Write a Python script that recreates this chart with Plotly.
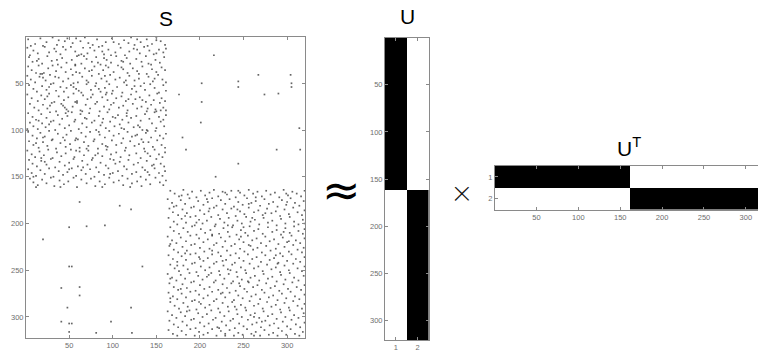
import plotly.graph_objects as go

W, H = 758, 351

# ---------------- data ----------------
n_nodes = 320
cluster_sizes = [161, 159]

# nonzero entries (row, col) of S
block1_entries = [
(3,3),(8,11),(2,17),(6,24),(1,31),(9,36),(4,38),(2,48),(7,54),(5,63),(1,68),(9,77),(3,82),(6,92),(2,99),(8,107),(4,113),(1,121),(9,125),(6,132),(3,139),(8,145),(1,150),(5,155),(9,160),(10,6),(5,45),(10,88),(7,118),(4,150),(10,140),(2,58),(7,72),(10,20),(6,101),(3,128),
(12,2),(15,9),(18,14),(11,22),(17,27),(13,33),(19,40),(14,46),(11,52),(16,57),(20,61),(12,66),(18,71),(15,79),(11,84),(19,90),(14,95),(17,103),(12,109),(20,114),(16,119),(13,124),(18,131),(11,136),(15,142),(19,147),(14,153),(17,158),(13,161),(20,5),(16,35),(12,74),(20,98),(14,128),(18,150),(11,43),(19,64),(16,88),
(22,4),(27,8),(24,15),(29,19),(21,25),(26,30),(30,37),(23,42),(28,47),(25,53),(21,59),(29,64),(24,70),(27,76),(22,81),(30,86),(25,93),(28,98),(21,104),(26,110),(23,116),(29,120),(24,127),(27,133),(21,138),(30,144),(25,149),(28,154),(22,159),(26,13),(30,57),(23,90),(27,112),(29,141),(21,67),(25,36),(28,83),
(32,3),(36,7),(39,12),(40,17),(40,19),(39,21),(34,26),(31,31),(37,35),(33,41),(38,46),(35,52),(31,57),(39,62),(34,68),(37,73),(32,79),(40,84),(36,89),(33,95),(38,101),(31,106),(35,112),(39,117),(34,123),(37,128),(32,134),(40,139),(35,145),(38,150),(33,156),(36,160),(31,15),(38,58),(33,110),(40,130),(36,76),(31,92),
(42,2),(46,6),(49,11),(43,16),(47,23),(41,28),(50,32),(44,38),(48,43),(45,49),(41,54),(49,60),(43,65),(47,70),(42,76),(50,81),(45,87),(48,93),(41,97),(46,103),(44,108),(49,113),(42,119),(47,125),(45,130),(50,136),(43,141),(48,146),(41,152),(46,157),(49,161),(44,20),(50,55),(42,91),(47,115),(45,148),(49,72),(43,34),
(52,4),(56,9),(59,13),(53,19),(57,24),(51,29),(58,35),(54,40),(55,47),(52,52),(54,55),(56,58),(58,61),(60,64),(51,70),(57,75),(53,80),(59,86),(55,91),(51,96),(58,100),(54,105),(60,111),(52,116),(56,122),(59,127),(53,132),(57,137),(51,143),(55,148),(60,153),(52,158),(58,161),(54,27),(59,44),(56,84),(53,125),(60,93),
(62,2),(66,7),(69,14),(63,18),(67,22),(61,27),(70,33),(64,38),(68,44),(65,49),(61,55),(69,59),(63,66),(67,71),(62,77),(70,82),(65,88),(68,94),(61,99),(66,104),(64,110),(69,115),(62,121),(67,126),(65,131),(70,138),(63,142),(68,147),(61,151),(66,156),(69,160),(64,25),(70,57),(62,92),(67,118),(65,75),(68,134),
(72,5),(76,10),(79,15),(73,20),(77,25),(71,30),(80,35),(72,41),(74,43),(76,45),(78,47),(80,49),(75,54),(71,59),(79,63),(73,69),(77,74),(72,80),(80,85),(75,90),(78,96),(71,101),(76,107),(74,112),(79,117),(72,123),(77,128),(75,133),(80,139),(73,144),(78,149),(71,154),(76,158),(79,161),(74,28),(80,65),(73,98),(77,140),(79,155),
(82,3),(86,8),(89,12),(83,18),(87,24),(81,28),(90,32),(84,37),(88,42),(85,48),(81,53),(89,57),(83,63),(87,68),(82,73),(90,79),(85,84),(88,89),(81,94),(86,100),(84,106),(89,111),(82,116),(87,121),(85,127),(90,132),(83,137),(88,142),(81,148),(86,153),(89,158),(84,161),(90,15),(82,46),(87,103),(85,116),(80,150),(88,70),
(92,5),(96,9),(99,14),(93,19),(97,23),(91,29),(100,34),(94,39),(98,45),(95,50),(91,56),(99,61),(93,65),(97,70),(92,76),(100,81),(95,86),(98,92),(91,97),(96,102),(94,108),(99,113),(92,118),(97,124),(95,129),(100,134),(100,139),(101,140),(93,145),(98,150),(91,155),(96,159),(99,2),(94,27),(92,88),(97,131),(98,110),
(102,3),(106,8),(109,13),(103,17),(107,22),(101,27),(110,31),(104,37),(108,43),(105,47),(101,52),(109,58),(103,64),(107,69),(102,74),(110,79),(105,85),(108,91),(101,96),(106,101),(104,107),(109,112),(102,117),(107,122),(105,128),(110,133),(103,138),(108,144),(101,149),(106,154),(109,158),(104,161),(110,60),(102,84),(106,126),(108,20),
(112,4),(116,9),(119,15),(113,20),(117,25),(111,30),(120,35),(114,40),(118,46),(115,51),(111,57),(119,62),(113,67),(117,72),(112,78),(120,83),(115,88),(118,94),(111,99),(116,104),(114,110),(119,115),(112,120),(117,125),(115,130),(120,136),(113,141),(118,146),(111,151),(116,156),(119,160),(114,12),(111,45),(117,92),(113,135),(120,70),
(122,2),(126,7),(129,11),(123,16),(127,21),(121,26),(130,31),(124,36),(128,41),(125,46),(121,52),(129,56),(123,62),(127,67),(122,72),(130,77),(125,83),(128,88),(121,93),(126,98),(124,104),(129,109),(122,114),(127,119),(125,127),(130,132),(123,137),(128,143),(121,148),(126,153),(129,157),(124,160),(130,18),(122,58),(127,80),(125,140),
(132,4),(136,8),(139,13),(133,18),(137,24),(131,29),(140,34),(134,39),(138,45),(135,50),(131,55),(139,60),(133,65),(137,71),(132,76),(140,81),(135,86),(138,92),(131,97),(136,103),(134,108),(139,113),(132,118),(137,124),(135,129),(140,134),(133,139),(138,145),(131,150),(136,155),(139,159),(134,22),(140,66),(132,101),(137,147),
(142,3),(146,7),(149,12),(143,17),(147,22),(141,27),(150,32),(144,38),(148,43),(145,48),(141,53),(149,58),(143,64),(147,69),(142,74),(150,79),(145,84),(148,90),(141,95),(146,100),(144,106),(149,111),(142,116),(147,122),(145,127),(150,132),(143,137),(148,142),(141,148),(146,153),(149,157),(144,160),(150,9),(142,50),(147,97),(145,140),
(152,5),(156,9),(159,14),(153,19),(157,24),(151,29),(160,33),(154,39),(158,44),(155,49),(151,55),(161,59),(153,64),(157,70),(152,75),(160,80),(155,85),(158,91),(151,96),(156,101),(154,107),(159,112),(152,117),(157,122),(155,128),(160,133),(153,138),(158,143),(151,149),(156,154),(159,158),(161,12),(161,40),(161,88),(161,120),(154,161),
]

block2_entries = [
(165,166),(168,171),(171,176),(164,181),(169,186),(166,191),(172,196),(165,201),(170,206),(167,211),(164,216),(171,221),(166,226),(169,231),(165,236),(172,241),(167,246),(170,251),(164,256),(168,261),(166,266),(171,271),(165,276),(169,281),(167,286),(172,291),(164,296),(170,301),(166,306),(168,311),(171,316),(165,320),(170,179),(167,229),(172,264),(168,299),(165,244),
(174,163),(178,168),(181,173),(175,178),(179,183),(173,188),(182,193),(176,198),(180,204),(177,209),(173,214),(181,219),(175,224),(179,229),(174,234),(182,239),(177,244),(180,249),(173,254),(178,259),(176,264),(181,269),(174,274),(179,279),(177,284),(182,289),(175,294),(180,299),(173,304),(178,309),(181,314),(176,319),(182,170),(174,208),(179,256),(177,300),
(184,165),(188,169),(191,175),(185,180),(189,185),(183,190),(192,195),(186,200),(190,205),(187,210),(183,216),(191,221),(185,226),(189,231),(184,236),(192,241),(187,246),(190,251),(183,256),(188,262),(186,267),(191,272),(184,277),(189,282),(187,287),(192,292),(185,297),(190,302),(183,307),(188,312),(191,317),(186,320),(192,183),(185,243),(189,275),(184,211),
(194,164),(198,170),(201,174),(195,179),(199,184),(193,189),(202,194),(196,199),(200,203),(197,208),(193,213),(201,218),(195,223),(199,228),(194,233),(202,238),(197,243),(200,248),(193,253),(198,258),(196,263),(201,268),(194,273),(199,278),(197,283),(202,288),(195,293),(200,298),(193,303),(198,308),(201,313),(196,318),(200,320),(202,232),(194,260),(199,196),
(204,166),(208,170),(211,176),(205,181),(209,186),(203,191),(212,196),(206,201),(210,206),(207,212),(203,217),(211,222),(205,227),(209,232),(204,237),(212,242),(207,247),(210,252),(203,257),(208,262),(206,267),(211,272),(204,278),(209,283),(207,288),(212,293),(205,298),(210,303),(203,308),(208,313),(211,318),(206,320),(212,214),(204,250),(209,296),
(214,163),(218,168),(221,173),(215,178),(219,184),(213,189),(222,194),(216,199),(220,204),(217,209),(213,214),(221,219),(215,224),(219,229),(214,234),(222,240),(217,245),(220,250),(213,255),(218,260),(216,265),(221,270),(214,275),(219,280),(217,285),(222,290),(215,295),(220,300),(213,305),(218,310),(221,315),(216,320),(222,166),(214,247),(219,302),
(224,165),(228,170),(231,175),(225,180),(229,185),(223,190),(232,195),(226,200),(230,205),(227,211),(223,216),(231,221),(225,226),(229,231),(224,236),(232,241),(227,246),(230,251),(223,256),(228,261),(226,266),(231,271),(224,276),(229,281),(227,287),(232,292),(225,297),(230,302),(223,307),(228,312),(231,317),(226,319),(232,183),(224,258),(229,214),
(234,164),(238,169),(241,174),(235,179),(239,184),(233,189),(242,194),(236,199),(240,204),(237,209),(233,214),(241,219),(235,224),(239,230),(234,235),(242,240),(237,245),(240,250),(233,255),(238,260),(236,265),(241,270),(234,275),(239,280),(237,285),(242,290),(235,295),(240,300),(233,305),(238,310),(241,315),(236,320),(240,226),(234,287),(238,200),
(244,166),(248,171),(251,176),(245,181),(249,186),(243,191),(252,196),(246,201),(250,206),(247,211),(243,216),(251,222),(245,227),(249,232),(244,237),(252,242),(247,247),(250,252),(243,257),(248,262),(246,267),(251,272),(244,277),(249,282),(247,287),(252,292),(245,297),(250,302),(243,307),(248,312),(251,317),(246,320),(243,289),(250,235),(245,174),
(254,163),(258,168),(261,173),(255,178),(259,183),(253,188),(262,193),(256,198),(260,203),(257,208),(253,213),(261,218),(255,223),(259,228),(254,233),(262,238),(257,243),(260,248),(253,253),(258,258),(256,263),(261,268),(254,273),(259,278),(257,283),(262,288),(255,293),(260,298),(253,303),(258,308),(261,313),(256,319),(262,255),(255,210),(259,166),
(264,165),(268,170),(271,175),(265,180),(269,185),(263,190),(272,195),(266,200),(270,205),(268,211),(263,216),(271,221),(265,226),(269,231),(264,236),(272,241),(267,246),(270,251),(263,256),(268,261),(266,266),(271,271),(264,276),(269,281),(267,286),(272,291),(265,296),(270,301),(263,306),(268,311),(271,316),(266,320),(264,245),(270,178),
(274,164),(278,169),(281,174),(275,179),(279,184),(273,189),(282,194),(276,199),(280,204),(277,209),(273,214),(281,219),(275,224),(279,229),(274,234),(282,239),(277,244),(280,249),(273,254),(278,259),(276,264),(281,269),(274,274),(279,279),(277,284),(282,289),(275,294),(280,299),(273,304),(278,309),(281,314),(276,320),(280,166),(274,226),
(284,166),(288,171),(291,176),(285,181),(289,186),(283,191),(292,196),(286,201),(290,206),(287,211),(283,216),(291,221),(285,226),(289,232),(284,237),(292,242),(287,247),(290,252),(283,257),(288,262),(286,267),(291,272),(284,277),(289,282),(287,287),(292,292),(285,297),(290,302),(283,307),(288,312),(291,317),(286,320),(289,240),(284,199),
(294,163),(298,168),(301,173),(295,178),(299,183),(293,188),(302,193),(296,198),(300,203),(297,208),(293,213),(301,218),(295,223),(299,228),(294,233),(302,238),(297,243),(300,248),(293,253),(298,258),(296,263),(301,268),(294,273),(299,278),(297,283),(302,288),(295,293),(300,298),(293,303),(298,308),(301,313),(296,319),(300,262),(294,185),
(304,165),(308,170),(311,175),(305,180),(309,185),(303,190),(312,195),(306,200),(310,205),(307,210),(303,215),(311,220),(305,225),(309,230),(304,235),(312,240),(307,245),(310,250),(303,255),(308,260),(306,265),(311,270),(304,275),(309,280),(307,285),(312,290),(305,295),(310,300),(303,305),(308,310),(311,315),(306,320),(312,222),(305,271),
(314,164),(318,169),(320,174),(315,179),(319,184),(313,189),(320,194),(316,199),(319,204),(317,209),(313,214),(320,219),(315,224),(318,229),(314,234),(320,239),(317,244),(319,249),(313,254),(318,259),(316,264),(320,269),(314,274),(319,279),(317,284),(320,289),(315,294),(319,299),(313,304),(318,309),(320,314),(316,318),(320,229),(320,262),
]

offdiag_entries = [
(20,216),(50,202),(48,244),(54,244),(41,267),(41,304),(50,305),(54,305),(62,274),(61,290),(62,176),(70,202),
(108,180),(92,201),(98,314),(121,184),(121,288),(121,315),(136,244),(150,218),
(177,62),(181,108),(185,121),(203,70),(202,91),(204,50),(217,20),(246,50),(246,53),(246,134),
(269,41),(268,62),(277,62),(290,48),(290,121),(305,41),(307,50),(307,53),(305,98),(316,50),(317,81),(317,122),
]

s_ticks = [50, 100, 150, 200, 250, 300]
u_col_ticks = [1, 2]

# ---------------- helpers ----------------
def px_x(p):
    return p / W

def px_y(p):
    return 1 - p / H

entries = block1_entries + block2_entries + offdiag_entries
rows = [e[0] for e in entries]
cols = [e[1] for e in entries]

membership = []
for k, size in enumerate(cluster_sizes):
    membership += [k] * size
U_z = [[1 if membership[i] == 0 else 0, 1 if membership[i] == 1 else 0] for i in range(n_nodes)]
UT_z = [[row[j] for row in U_z] for j in range(2)]
node_idx = list(range(1, n_nodes + 1))

fig = go.Figure()

fig.add_trace(go.Scatter(
    x=cols, y=rows, mode="markers", xaxis="x", yaxis="y",
    marker=dict(symbol="square", size=1.7, color="rgba(50,50,50,0.75)", line=dict(width=0)),
    hoverinfo="skip", showlegend=False))

cs = [[0, "white"], [1, "black"]]
fig.add_trace(go.Heatmap(z=U_z, x=u_col_ticks, y=node_idx, xaxis="x2", yaxis="y2",
                         colorscale=cs, zmin=0, zmax=1, showscale=False, hoverinfo="skip"))
fig.add_trace(go.Heatmap(z=UT_z, x=node_idx, y=u_col_ticks, xaxis="x3", yaxis="y3",
                         colorscale=cs, zmin=0, zmax=1, showscale=False, hoverinfo="skip"))

tickfont = dict(family="Liberation Sans, Arial, sans-serif", size=7.5, color="#6e6e6e")
common = dict(showgrid=False, zeroline=False, showline=True, linecolor="#8a8a8a", linewidth=1,
              ticks="inside", ticklen=3, tickcolor="#8a8a8a", tickfont=tickfont)

fig.update_layout(
    width=W, height=H, margin=dict(l=0, r=0, t=0, b=0),
    paper_bgcolor="white", plot_bgcolor="white",
    xaxis=dict(domain=[px_x(26), px_x(305)], range=[0.5, 320.5], tickvals=s_ticks,
               anchor="y", mirror="ticks", **common),
    yaxis=dict(domain=[px_y(338), px_y(37)], range=[322.5, 0.5], tickvals=s_ticks,
               anchor="x", mirror="ticks", **common),
    xaxis2=dict(domain=[px_x(385), px_x(428.5)], range=[0.5, 2.5], tickvals=u_col_ticks,
                anchor="y2", mirror="ticks", **common),
    yaxis2=dict(domain=[px_y(340), px_y(38)], range=[320.5, 0.5], tickvals=s_ticks,
                anchor="x2", mirror="ticks", **common),
    xaxis3=dict(domain=[px_x(495), 1.0], range=[0.5, 314.5], tickvals=s_ticks,
                anchor="y3", mirror="ticks", **common),
    yaxis3=dict(domain=[px_y(209.5), px_y(166)], range=[2.5, 0.5], tickvals=u_col_ticks,
                anchor="x3", mirror=False, **common),
)

title_font = dict(family="Liberation Sans, Arial, sans-serif", size=21, color="black")
fig.add_annotation(text="S", x=px_x(166), y=px_y(18), xref="paper", yref="paper",
                   showarrow=False, font=title_font, xanchor="center", yanchor="middle")
fig.add_annotation(text="U", x=px_x(407), y=px_y(17), xref="paper", yref="paper",
                   showarrow=False, font=title_font, xanchor="center", yanchor="middle")
fig.add_annotation(text="U<sup>T</sup>", x=px_x(629), y=px_y(147), xref="paper", yref="paper",
                   showarrow=False, font=title_font, xanchor="center", yanchor="middle")
fig.add_annotation(text="≈", x=px_x(341), y=px_y(190), xref="paper", yref="paper",
                   showarrow=False, font=dict(family="DejaVu Sans, sans-serif", size=46, color="black"),
                   xanchor="center", yanchor="middle")
fig.add_annotation(text="×", x=px_x(462), y=px_y(191), xref="paper", yref="paper",
                   showarrow=False, font=dict(family="Lato, sans-serif", size=34, color="#111", weight=300),
                   xanchor="center", yanchor="middle")

fig.write_html("out.html")
